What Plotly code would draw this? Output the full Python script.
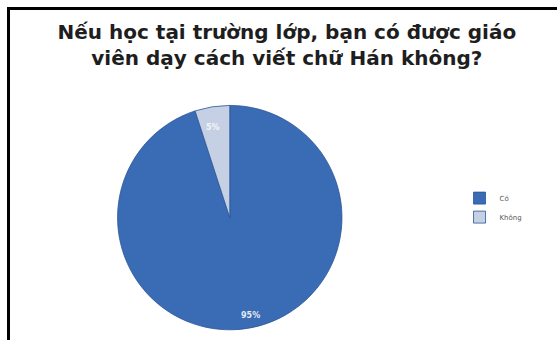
import plotly.graph_objects as go

# Survey answers and their shares (%)
labels = ["Có", "Không"]
values = [95, 5]
slice_colors = ["#3a6bb5", "#c6d0e4"]
title_lines = ["Nếu học tại trường lớp, bạn có được giáo",
               "viên dạy cách viết chữ Hán không?"]

fig = go.Figure(go.Pie(
    labels=labels,
    values=values,
    sort=False,
    direction="clockwise",
    rotation=0,
    marker=dict(colors=slice_colors, line=dict(color="#2b5596", width=0.8)),
    textinfo="none",
    domain=dict(x=[0.206, 0.619], y=[0.03, 0.69]),
    hoverinfo="label+percent",
))

# Percentage labels placed like the spreadsheet's "best fit" positions
total = sum(values)
label_pos = [(250 / 557, 1 - 322 / 340), (213 / 557, 1 - 127 / 340)]
label_colors = ["#e6ecf6", "#f2f4f9"]
annotations = []
for v, (px, py), c in zip(values, label_pos, label_colors):
    annotations.append(dict(
        x=px, y=py, xref="paper", yref="paper",
        text=f"<b>{round(100 * v / total)}%</b>", showarrow=False,
        font=dict(family="DejaVu Sans", size=8, color=c),
    ))

W, H = 557, 340
fig.update_layout(
    width=W, height=H,
    margin=dict(l=0, r=0, t=0, b=0),
    # black page with white panels laid over it, leaving an L-shaped frame
    paper_bgcolor="black",
    plot_bgcolor="white",
    title=dict(
        text="<b>" + "<br>".join(title_lines) + "</b>",
        x=0.515, xanchor="center",
        y=0.885, yanchor="top",
        font=dict(family="DejaVu Sans", size=20, color="#1e1e1e"),
    ),
    legend=dict(
        x=0.825, y=0.46, xanchor="left", yanchor="top",
        font=dict(family="DejaVu Sans", size=7, color="#5a5a5a"),
        itemwidth=30, tracegroupgap=4,
        bgcolor="rgba(0,0,0,0)",
    ),
    annotations=annotations,
    shapes=[
        # strip left of the frame
        dict(type="rect", xref="paper", yref="paper",
             x0=-0.01, x1=7 / W, y0=-0.01, y1=1.01,
             fillcolor="white", line=dict(width=0), layer="below"),
        # strip above the frame
        dict(type="rect", xref="paper", yref="paper",
             x0=-0.01, x1=1.01, y0=1 - 7 / H, y1=1.01,
             fillcolor="white", line=dict(width=0), layer="below"),
        # chart area inside the frame
        dict(type="rect", xref="paper", yref="paper",
             x0=10 / W, x1=1.01, y0=-0.01, y1=1 - 10 / H,
             fillcolor="white", line=dict(width=0), layer="below"),
    ],
)

fig.write_html("out.html")
